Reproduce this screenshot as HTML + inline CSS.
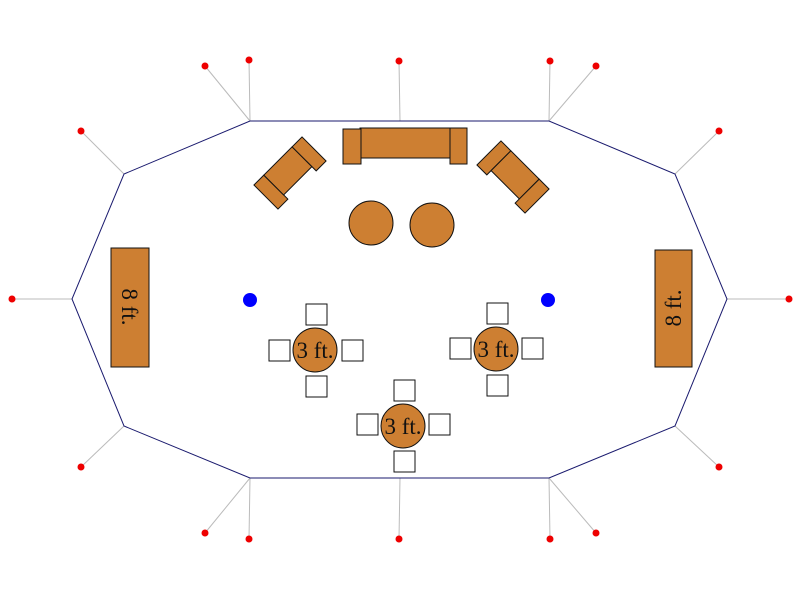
<!DOCTYPE html>
<html><head><style>body{margin:0;background:#fff}svg{display:block}</style></head><body>
<svg width="800" height="600" viewBox="0 0 800 600" xmlns="http://www.w3.org/2000/svg" font-family="Liberation Serif, serif">
<g stroke="#bbb" stroke-width="1">
<line x1="250" y1="121" x2="205" y2="66"/><line x1="250" y1="121" x2="249" y2="60"/>
<line x1="400" y1="121" x2="399" y2="61"/>
<line x1="549" y1="121" x2="550" y2="61"/><line x1="549" y1="121" x2="596" y2="66"/>
<line x1="675" y1="174" x2="719" y2="131"/><line x1="124" y1="174" x2="81" y2="131"/>
<line x1="72" y1="299" x2="12" y2="299"/><line x1="727" y1="299" x2="789" y2="299"/>
<line x1="124" y1="426" x2="81" y2="467"/><line x1="675" y1="426" x2="719" y2="467"/>
<line x1="250" y1="478" x2="205" y2="533"/><line x1="250" y1="478" x2="249" y2="539"/>
<line x1="400" y1="478" x2="399" y2="539"/>
<line x1="549" y1="478" x2="550" y2="539"/><line x1="549" y1="478" x2="596" y2="533"/>
</g>
<polygon points="250,121 549,121 675,174 727,299 675,426 549,478 250,478 124,426 72,299 124,174" fill="none" stroke="#1a1a6e" stroke-width="1"/>
<g fill="#e00">
<circle cx="205" cy="66" r="3.5"/><circle cx="249" cy="60" r="3.5"/><circle cx="399" cy="61" r="3.5"/><circle cx="550" cy="61" r="3.5"/><circle cx="596" cy="66" r="3.5"/>
<circle cx="719" cy="131" r="3.5"/><circle cx="81" cy="131" r="3.5"/><circle cx="12" cy="299" r="3.5"/><circle cx="789" cy="299" r="3.5"/>
<circle cx="81" cy="467" r="3.5"/><circle cx="719" cy="467" r="3.5"/>
<circle cx="205" cy="533" r="3.5"/><circle cx="249" cy="539" r="3.5"/><circle cx="399" cy="539" r="3.5"/><circle cx="550" cy="539" r="3.5"/><circle cx="596" cy="533" r="3.5"/>
</g>
<g fill="#cd7f32" stroke="#111" stroke-width="1">
<rect x="360" y="128" width="90" height="30"/>
<rect x="343" y="129" width="18" height="35"/>
<rect x="450" y="128" width="17" height="36"/>
<g transform="translate(290,173) rotate(-45)">
<rect x="-34" y="-17" width="14" height="34"/><rect x="-20" y="-17" width="40" height="28"/><rect x="20" y="-17" width="14" height="34"/>
</g>
<g transform="translate(513,177) rotate(45)">
<rect x="-34" y="-17" width="14" height="34"/><rect x="-20" y="-17" width="40" height="28"/><rect x="20" y="-17" width="14" height="34"/>
</g>
<circle cx="371" cy="223" r="22"/><circle cx="432" cy="225" r="22"/>
<rect x="111" y="248" width="38" height="119"/>
<rect x="655" y="250" width="37" height="117"/>
<circle cx="315" cy="350" r="22"/><circle cx="496" cy="349" r="22"/><circle cx="403" cy="426" r="22"/>
</g>
<g fill="#fff" stroke="#111" stroke-width="1">
<rect x="306" y="304" width="21" height="21"/><rect x="269" y="340" width="21" height="21"/><rect x="342" y="340" width="21" height="21"/><rect x="306" y="376" width="21" height="21"/>
<rect x="487" y="303" width="21" height="21"/><rect x="450" y="338" width="21" height="21"/><rect x="522" y="338" width="21" height="21"/><rect x="487" y="375" width="21" height="21"/>
<rect x="394" y="380" width="21" height="21"/><rect x="357" y="414" width="21" height="21"/><rect x="429" y="414" width="21" height="21"/><rect x="394" y="451" width="21" height="21"/>
</g>
<g font-size="23" fill="#111" text-anchor="middle">
<text x="315" y="358">3 ft.</text><text x="496" y="357">3 ft.</text><text x="403" y="434">3 ft.</text>
<text transform="translate(130,307) rotate(90)" y="8">8 ft.</text>
<text transform="translate(673,308) rotate(-90)" y="8">8 ft.</text>
</g>
<circle cx="250" cy="300" r="7" fill="#00f"/><circle cx="548" cy="300" r="7" fill="#00f"/>
</svg>
</body></html>
